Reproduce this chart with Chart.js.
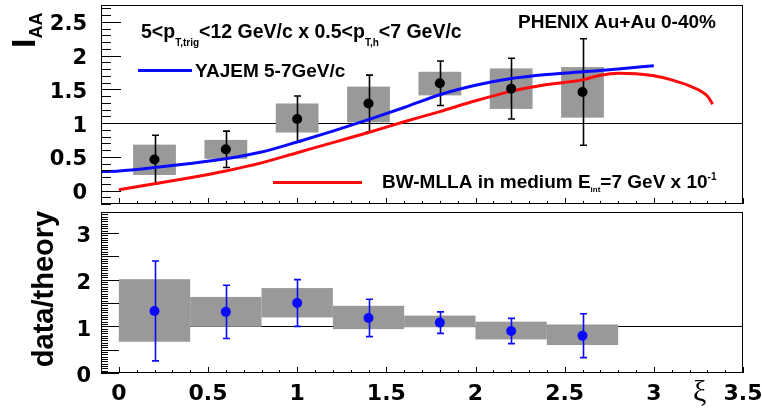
<!DOCTYPE html>
<html>
<head>
<meta charset="utf-8">
<script src="https://cdn.jsdelivr.net/npm/chart.js@4.4.1/dist/chart.umd.min.js"></script>
<style>
    html, body { margin: 0; padding: 0; background: #fff; }
    #wrap { position: relative; width: 762px; height: 417px; }
    canvas { position: absolute; left: 0; top: 0; }
</style>
</head>
<body>
<div id="wrap">
    <canvas id="iaaChart" width="762" height="417"></canvas>
    <canvas id="ratioChart" width="762" height="417"></canvas>
</div>
<script>
// measured points (xi bin centres)
const xiBins = [0.2, 0.6, 1.0, 1.4, 1.8, 2.2, 2.6];
const iaaValues = [0.46, 0.61, 1.06, 1.29, 1.59, 1.51, 1.46];
const iaaStatErr = [0.36, 0.27, 0.34, 0.42, 0.33, 0.45, 0.79];
const iaaSysLow = [0.23, 0.47, 0.86, 1.01, 1.41, 1.21, 1.08];
const iaaSysHigh = [0.68, 0.75, 1.29, 1.54, 1.76, 1.81, 1.83];

// data / theory ratio
const ratioValues = [1.33, 1.31, 1.50, 1.18, 1.08, 0.90, 0.80];
const ratioStatErr = [1.07, 0.57, 0.50, 0.40, 0.23, 0.27, 0.47];
const ratioSysLow = [0.67, 0.99, 1.19, 0.94, 0.98, 0.72, 0.60];
const ratioSysHigh = [2.01, 1.63, 1.82, 1.44, 1.23, 1.10, 1.04];
const ratioBinEdges = [0, 0.4, 0.8, 1.2, 1.6, 2.0, 2.4, 2.8];

// theory curves
const yajemXi = [-0.1, 0, 0.2, 0.4, 0.6, 0.8, 1.0, 1.2, 1.4, 1.6, 1.8, 2.0, 2.2, 2.4, 2.6, 2.8, 3.0];
const yajemIaa = [0.28, 0.29, 0.34, 0.40, 0.47, 0.57, 0.72, 0.88, 1.05, 1.23, 1.42, 1.56, 1.66, 1.72, 1.76, 1.80, 1.85];
const bwXi = [0, 0.2, 0.4, 0.6, 0.8, 1.0, 1.2, 1.4, 1.6, 1.8, 2.0, 2.2, 2.4, 2.6, 2.7, 2.8, 2.9, 3.0, 3.1, 3.2, 3.3, 3.33];
const bwIaa = [0.01, 0.10, 0.19, 0.29, 0.41, 0.56, 0.71, 0.86, 1.02, 1.17, 1.33, 1.47, 1.57, 1.64, 1.71, 1.74, 1.73, 1.70, 1.64, 1.55, 1.40, 1.28];

// axis ticks
const xTicks = [0, 0.5, 1, 1.5, 2, 2.5, 3, 3.5];
const iaaYTicks = [0, 0.5, 1, 1.5, 2, 2.5];
const ratioYTicks = [0, 0.5, 1, 1.5, 2, 2.5, 3];

const BOX_HALF = 0.12;
const GREY = "#999999";
const BLUE = "#0a0aff";
const RED = "#ff0a0a";
const SANS = '"Liberation Sans", Arial, sans-serif';
const TICK_FONT = { family: '"DejaVu Sans", sans-serif', weight: "bold" };

function toXY(xs, ys) {
    return xs.map((x, i) => ({ x: x, y: ys[i] }));
}

function setTicks(values) {
    return function (scale) {
        scale.ticks = values.map(v => ({ value: v }));
    };
}

function drawFrameTicks(chart, yStep, yMajorLen, yMinorLen) {
    const { ctx, chartArea: a, scales: { x, y } } = chart;
    ctx.save();
    ctx.strokeStyle = "#000";
    ctx.lineWidth = 1;
    ctx.strokeRect(a.left + 0.5, a.top + 0.5, a.right - a.left - 1, a.bottom - a.top - 1);
    ctx.beginPath();
    for (let k = Math.ceil(x.min * 10 - 1e-9); k <= Math.floor(x.max * 10 + 1e-9); k++) {
        const px = Math.round(x.getPixelForValue(k / 10)) + 0.5;
        const len = k % 5 === 0 ? 6 : 3;
        ctx.moveTo(px, a.bottom);
        ctx.lineTo(px, a.bottom - len);
    }
    const perMajor = Math.round(0.5 / yStep);
    for (let k = Math.ceil(y.min / yStep - 1e-9); k <= Math.floor(y.max / yStep + 1e-9); k++) {
        const py = Math.round(y.getPixelForValue(k * yStep)) + 0.5;
        const len = k % perMajor === 0 ? yMajorLen : yMinorLen;
        ctx.moveTo(a.left, py);
        ctx.lineTo(a.left + len, py);
    }
    ctx.stroke();
    ctx.restore();
}

function drawUnity(chart) {
    const { ctx, scales: { x, y } } = chart;
    const py = Math.round(y.getPixelForValue(1)) + 0.5;
    ctx.save();
    ctx.strokeStyle = "#000";
    ctx.lineWidth = 1;
    ctx.beginPath();
    ctx.moveTo(x.getPixelForValue(x.min), py);
    ctx.lineTo(x.getPixelForValue(x.max), py);
    ctx.stroke();
    ctx.restore();
}

function drawBoxes(chart, lefts, rights, lows, highs) {
    const { ctx, scales: { x, y } } = chart;
    ctx.save();
    ctx.fillStyle = GREY;
    lefts.forEach((l, i) => {
        const x0 = x.getPixelForValue(l), x1 = x.getPixelForValue(rights[i]);
        const y0 = y.getPixelForValue(highs[i]), y1 = y.getPixelForValue(lows[i]);
        ctx.fillRect(x0, y0, x1 - x0, y1 - y0);
    });
    ctx.restore();
}

function drawErrorBars(chart, xs, ys, errs, color) {
    const { ctx, scales: { x, y } } = chart;
    ctx.save();
    ctx.strokeStyle = color;
    ctx.lineWidth = 1.6;
    ctx.beginPath();
    xs.forEach((xv, i) => {
        const px = Math.round(x.getPixelForValue(xv)) + 0.5;
        const top = y.getPixelForValue(ys[i] + errs[i]);
        const bot = y.getPixelForValue(ys[i] - errs[i]);
        ctx.moveTo(px, top); ctx.lineTo(px, bot);
        ctx.moveTo(px - 3.5, top); ctx.lineTo(px + 3.5, top);
        ctx.moveTo(px - 3.5, bot); ctx.lineTo(px + 3.5, bot);
    });
    ctx.stroke();
    ctx.restore();
}

// draws a run of text pieces: [text, size, baselineShift]
function drawRich(ctx, x, y, parts) {
    parts.forEach(([text, size, dy]) => {
        ctx.font = "bold " + size + "px " + SANS;
        ctx.fillText(text, x, y + dy);
        x += ctx.measureText(text).width;
    });
    return x;
}

const iaaPlugin = {
    id: "iaaDecor",
    beforeDatasetsDraw(chart) {
        drawUnity(chart);
        drawBoxes(chart, xiBins.map(v => v - BOX_HALF), xiBins.map(v => v + BOX_HALF), iaaSysLow, iaaSysHigh);
        drawErrorBars(chart, xiBins, iaaValues, iaaStatErr, "#000");
    },
    afterDraw(chart) {
        const ctx = chart.ctx;
        drawFrameTicks(chart, 0.1, 20, 10);
        ctx.save();
        ctx.fillStyle = "#000";
        ctx.textBaseline = "alphabetic";
        drawRich(ctx, 141, 38, [
            ["5<p", 19.5, 0], ["T,trig", 10, 8],
            ["<12 GeV/c x 0.5<p", 19.5, 0], ["T,h", 10, 8],
            ["<7 GeV/c", 19.5, 0]
        ]);
        drawRich(ctx, 518, 28, [["PHENIX Au+Au 0-40%", 19, 0]]);
        drawRich(ctx, 195, 77, [["YAJEM 5-7GeV/c", 19, 0]]);
        drawRich(ctx, 382, 188, [
            ["BW-MLLA in medium E", 19, 0], ["int", 8, 4],
            ["=7 GeV x 10", 19, 0], ["-1", 10, -8]
        ]);
        // legend samples
        ctx.lineWidth = 3;
        ctx.strokeStyle = BLUE;
        ctx.beginPath(); ctx.moveTo(138, 70.5); ctx.lineTo(192, 70.5); ctx.stroke();
        ctx.strokeStyle = RED;
        ctx.beginPath(); ctx.moveTo(273, 182.5); ctx.lineTo(362, 182.5); ctx.stroke();
        // y title I_AA
        ctx.translate(35, 48);
        ctx.rotate(-Math.PI / 2);
        ctx.font = "bold 34px " + SANS;
        ctx.fillText("I", 0, 0);
        const w = ctx.measureText("I").width;
        ctx.font = "bold 18px " + SANS;
        ctx.fillText("AA", w, 7);
        ctx.restore();
    }
};

const ratioPlugin = {
    id: "ratioDecor",
    beforeDatasetsDraw(chart) {
        drawUnity(chart);
        drawBoxes(chart, ratioBinEdges.slice(0, -1), ratioBinEdges.slice(1), ratioSysLow, ratioSysHigh);
        drawErrorBars(chart, xiBins, ratioValues, ratioStatErr, BLUE);
    },
    afterDraw(chart) {
        const ctx = chart.ctx;
        drawFrameTicks(chart, 0.05, 18, 7);
        ctx.save();
        ctx.fillStyle = "#000";
        ctx.font = '30px "Liberation Serif", serif';
        ctx.fillText("ξ", 693, 401);
        ctx.translate(53, 289);
        ctx.rotate(-Math.PI / 2);
        ctx.textAlign = "center";
        ctx.font = "bold 29px " + SANS;
        ctx.fillText("data/theory", 0, 0);
        ctx.restore();
    }
};

const common = {
    responsive: false,
    animation: false,
    devicePixelRatio: 1,
    plugins: { legend: { display: false }, tooltip: { enabled: false } }
};

new Chart(document.getElementById("iaaChart"), {
    type: "scatter",
    data: {
        datasets: [
            { data: toXY(xiBins, iaaValues), backgroundColor: "#000", borderWidth: 0, pointRadius: 5 },
            { type: "line", data: toXY(yajemXi, yajemIaa), borderColor: BLUE, borderWidth: 3, pointRadius: 0, cubicInterpolationMode: "monotone" },
            { type: "line", data: toXY(bwXi, bwIaa), borderColor: RED, borderWidth: 3, pointRadius: 0, cubicInterpolationMode: "monotone" }
        ]
    },
    options: {
        ...common,
        layout: { padding: { top: 4, right: 19, bottom: 213, left: 0 } },
        scales: {
            x: { type: "linear", min: -0.1, max: 3.5, display: false },
            y: {
                min: -0.2, max: 2.75,
                afterBuildTicks: setTicks(iaaYTicks),
                afterFit: s => { s.width = 101; s.paddingTop = 0; s.paddingBottom = 0; },
                grid: { display: false },
                border: { display: false },
                ticks: { font: { ...TICK_FONT, size: 21 }, color: "#000", padding: 6, labelOffset: 3, callback: v => String(v) }
            }
        }
    },
    plugins: [iaaPlugin]
});

new Chart(document.getElementById("ratioChart"), {
    type: "scatter",
    data: {
        datasets: [
            { data: toXY(xiBins, ratioValues), backgroundColor: BLUE, borderWidth: 0, pointRadius: 5 }
        ]
    },
    options: {
        ...common,
        layout: { padding: { top: 212, right: 19, bottom: 0, left: 0 } },
        scales: {
            x: {
                type: "linear", min: -0.1, max: 3.5,
                afterBuildTicks: setTicks(xTicks),
                afterFit: s => { s.height = 44; s.paddingLeft = 0; s.paddingRight = 0; },
                grid: { display: false },
                border: { display: false },
                ticks: { font: { ...TICK_FONT, size: 22 }, color: "#000", padding: 0, maxRotation: 0, autoSkip: false, callback: v => String(v) }
            },
            y: {
                min: 0, max: 3.45,
                afterBuildTicks: setTicks(ratioYTicks),
                afterFit: s => { s.width = 101; s.paddingTop = 0; s.paddingBottom = 0; },
                grid: { display: false },
                border: { display: false },
                ticks: { font: { ...TICK_FONT, size: 21 }, color: "#000", padding: 2, labelOffset: 4, callback: v => String(v) }
            }
        }
    },
    plugins: [ratioPlugin]
});
</script>
</body>
</html>
